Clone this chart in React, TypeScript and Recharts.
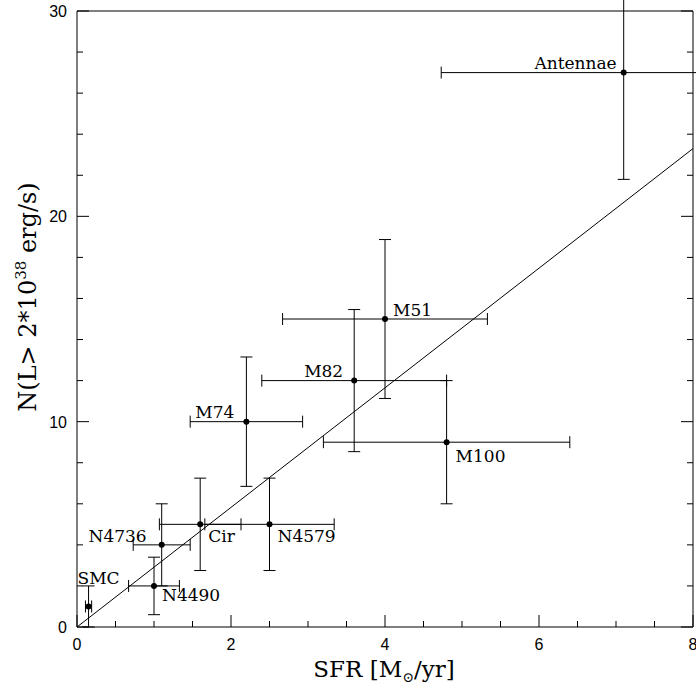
import React from "react";
import {
  ScatterChart,
  Scatter,
  XAxis,
  YAxis,
  ErrorBar,
  ReferenceLine,
} from "recharts";

// galaxies, star formation rate (x) and number of bright sources (y)
const galaxies = ["SMC", "N4490", "N4736", "Cir", "N4579", "M74", "M82", "M51", "M100", "Antennae"];
const sfr = [0.15, 1.0, 1.1, 1.6, 2.5, 2.2, 3.6, 4.0, 4.8, 7.1];
const sfrErr = [0.04, 0.33, 0.37, 0.53, 0.84, 0.73, 1.2, 1.33, 1.6, 2.37];
const nSources = [1, 2, 4, 5, 5, 10, 12, 15, 9, 27];
const nErr = [1, 1.4, 2, 2.25, 2.25, 3.15, 3.46, 3.87, 3, 5.2];

// linear fit through the origin
const fitX = [0, 8];
const fitY = [0, 23.3];

const xTicks = [0, 0.5, 1, 1.5, 2, 2.5, 3, 3.5, 4, 4.5, 5, 5.5, 6, 6.5, 7, 7.5, 8];
const xMajor = [0, 2, 4, 6, 8];
const yTicks = [0, 2, 4, 6, 8, 10, 12, 14, 16, 18, 20, 22, 24, 26, 28, 30];
const yMajor = [0, 10, 20, 30];

const data = galaxies.map((name, i) => ({
  name,
  sfr: sfr[i],
  sfrErr: sfrErr[i],
  n: nSources[i],
  nErr: nErr[i],
}));

// where each galaxy name sits relative to its point
const labelPlace: Record<string, { anchor: "start" | "end"; dx: number; dy: number }> = {
  SMC: { anchor: "start", dx: -11, dy: -22 },
  N4490: { anchor: "start", dx: 8, dy: 15 },
  N4736: { anchor: "end", dx: -15, dy: -3 },
  Cir: { anchor: "start", dx: 8, dy: 18 },
  N4579: { anchor: "start", dx: 8, dy: 18 },
  M74: { anchor: "end", dx: -12, dy: -4 },
  M82: { anchor: "end", dx: -11, dy: -4 },
  M51: { anchor: "start", dx: 8, dy: -3 },
  M100: { anchor: "start", dx: 9, dy: 20 },
  Antennae: { anchor: "end", dx: -7, dy: -4 },
};

const INK = "#000";
const tickFont = { fontFamily: "Liberation Sans, sans-serif", fontSize: 16, fill: INK };
const serif = "DejaVu Serif, serif";

function BottomTick(props: any) {
  const { x, y, payload } = props;
  const major = xMajor.includes(payload.value);
  return (
    <g>
      <line x1={x} x2={x} y1={y} y2={y - (major ? 12 : 6)} stroke={INK} />
      {major && (
        <text x={x} y={y + 23} textAnchor="middle" {...tickFont}>
          {payload.value}
        </text>
      )}
    </g>
  );
}

function TopTick(props: any) {
  const { x, y, payload } = props;
  const major = xMajor.includes(payload.value);
  return <line x1={x} x2={x} y1={y} y2={y + (major ? 12 : 6)} stroke={INK} />;
}

function LeftTick(props: any) {
  const { x, y, payload } = props;
  const major = yMajor.includes(payload.value);
  return (
    <g>
      <line x1={x} x2={x + (major ? 12 : 6)} y1={y} y2={y} stroke={INK} />
      {major && (
        <text x={x - 10} y={y + 6} textAnchor="end" {...tickFont}>
          {payload.value}
        </text>
      )}
    </g>
  );
}

function RightTick(props: any) {
  const { x, y, payload } = props;
  const major = yMajor.includes(payload.value);
  return <line x1={x} x2={x - (major ? 12 : 6)} y1={y} y2={y} stroke={INK} />;
}

function GalaxyDot(props: any) {
  const { cx, cy, payload } = props;
  const p = labelPlace[payload.name];
  return (
    <g>
      <circle cx={cx} cy={cy} r={3} fill={INK} />
      <text
        x={cx + p.dx}
        y={cy + p.dy}
        textAnchor={p.anchor}
        fontFamily={serif}
        fontSize={17}
        fill={INK}
      >
        {payload.name}
      </text>
    </g>
  );
}

function YTitle() {
  return (
    <text
      transform="rotate(-90)"
      x={-297}
      y={36}
      textAnchor="middle"
      fontFamily={serif}
      fontSize={24}
      fill={INK}
    >
      N(L&gt; 2*10
      <tspan dy={-10} fontSize={15}>38</tspan>
      <tspan dy={10}> erg/s)</tspan>
    </text>
  );
}

function XTitle() {
  return (
    <text x={384} y={677} textAnchor="middle" fontFamily={serif} fontSize={23} fill={INK}>
      SFR [M
      <tspan dy={5} fontSize={14}>⊙</tspan>
      <tspan dy={-5}>/yr]</tspan>
    </text>
  );
}

export default function App() {
  return (
    <div style={{ position: "absolute", left: 0, top: 0, background: "#fff" }}>
      <ScatterChart
        width={696}
        height={690}
        margin={{ top: 10, right: 0, bottom: 33, left: 37 }}
      >
        <XAxis
          xAxisId="bottom"
          type="number"
          dataKey="sfr"
          domain={[0, 8]}
          ticks={xTicks}
          interval={0}
          allowDataOverflow
          height={30}
          tickSize={0}
          tickMargin={0}
          tickLine={false}
          tick={<BottomTick />}
          axisLine={{ stroke: INK }}
          label={<XTitle />}
        />
        <XAxis
          xAxisId="top"
          orientation="top"
          type="number"
          domain={[0, 8]}
          ticks={xTicks}
          interval={0}
          allowDataOverflow
          height={1}
          tickSize={0}
          tickMargin={0}
          tickLine={false}
          tick={<TopTick />}
          axisLine={{ stroke: INK }}
        />
        <YAxis
          yAxisId="left"
          type="number"
          dataKey="n"
          domain={[0, 30]}
          ticks={yTicks}
          interval={0}
          allowDataOverflow
          width={40}
          tickSize={0}
          tickMargin={0}
          tickLine={false}
          tick={<LeftTick />}
          axisLine={{ stroke: INK }}
          label={<YTitle />}
        />
        <YAxis
          yAxisId="right"
          orientation="right"
          type="number"
          domain={[0, 30]}
          ticks={yTicks}
          interval={0}
          allowDataOverflow
          width={3}
          tickSize={0}
          tickMargin={0}
          tickLine={false}
          tick={<RightTick />}
          axisLine={{ stroke: INK }}
        />
        <ReferenceLine
          xAxisId="bottom"
          yAxisId="left"
          segment={[
            { x: fitX[0], y: fitY[0] },
            { x: fitX[1], y: fitY[1] },
          ]}
          stroke={INK}
          strokeWidth={1}
        />
        <Scatter
          xAxisId="bottom"
          yAxisId="left"
          data={data}
          isAnimationActive={false}
          shape={<GalaxyDot />}
        >
          <ErrorBar dataKey="sfrErr" direction="x" width={6} stroke={INK} strokeWidth={1} />
          <ErrorBar dataKey="nErr" direction="y" width={6} stroke={INK} strokeWidth={1} />
        </Scatter>
      </ScatterChart>
    </div>
  );
}
